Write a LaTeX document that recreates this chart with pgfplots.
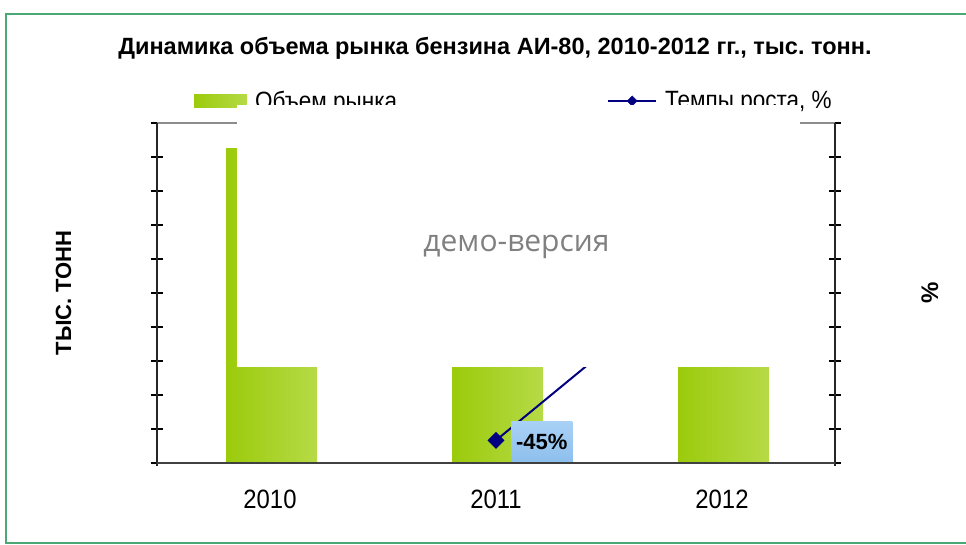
\documentclass[border=0pt]{standalone}
\usepackage{fontspec}
\setmainfont{Liberation Sans}
\newfontfamily\narrowsans{Liberation Sans}[FakeStretch=0.9]
\newfontfamily\demofont{Open Sans}
\usepackage{pgfplots}
\pgfplotsset{compat=1.18}
\definecolor{barL}{HTML}{9BCB0B}
\definecolor{barR}{HTML}{B6DA47}
\definecolor{growth}{HTML}{000080}
\definecolor{framegreen}{HTML}{4BA773}
\definecolor{lblTop}{HTML}{A9D1F6}
\definecolor{lblBot}{HTML}{8CBEEC}
\frenchspacing

\pgfplotsset{volbar/.style={ybar, bar width=91bp, bar shift=1.5bp, draw=none,
  left color=barL, right color=barR}}

\begin{document}
\begin{tikzpicture}
\useasboundingbox (0bp,0bp) rectangle (966bp,545bp);
\draw[framegreen, line width=2bp] (980bp,2bp) -- (6bp,2bp) -- (6bp,531bp) -- (980bp,531bp);

% volume, thousand tonnes
\begin{axis}[
  at={(157bp,82bp)}, anchor=south west,
  width=678bp, height=340bp, scale only axis,
  xmin=-0.5, xmax=2.5, ymin=0, ymax=10,
  axis line style={draw=none},
  xtick={0,1,2}, xticklabels={2010,2011,2012},
  xtick style={draw=none},
  minor xtick={0.5,1.5},
  minor x tick style={black!70, line width=1bp},
  minor tick length=16bp,
  ytick={0,...,10}, yticklabels={}, ytick pos=left,
  ytick style={black, line width=1.2bp},
  major tick length=12bp, tick align=center,
  x tick label style={font=\narrowsans\fontsize{26.5bp}{30bp}\selectfont, yshift=-17bp},
  ylabel={ТЫС. ТОНН},
  ylabel style={at={(axis description cs:-0.138,0.5)}, anchor=center,
    font=\bfseries\fontsize{22bp}{24bp}\selectfont},
  title={Динамика объема рынка бензина АИ-80, 2010-2012 гг., тыс. тонн.},
  title style={at={(axis description cs:0.4985,1.184)}, anchor=base,
    font=\bfseries\fontsize{23.5bp}{26bp}\selectfont},
  legend columns=2,
  legend style={at={(axis description cs:0.0546,1.0647)}, anchor=west,
    draw=none, fill=none, inner sep=0pt, column sep=0pt,
    nodes={inner sep=0pt},
    font=\narrowsans\fontsize{25bp}{28bp}\selectfont,
    /tikz/every odd column/.append style={column sep=8bp}},
]
\addplot[volbar,
  legend image code/.code={\fill[left color=barL, right color=barR] (0bp,-6.5bp) rectangle (53bp,6.5bp);}]
  coordinates {(0,9.26)};
\addlegendentry{\makebox[352bp][l]{Объем рынка}}
\addplot[volbar, forget plot] coordinates {(1,5.1)};
\addplot[volbar, forget plot] coordinates {(2,7.0)};
\addlegendimage{legend image code/.code={
  \draw[growth, line width=2bp] (0bp,0bp) -- (48bp,0bp);
  \fill[growth] (24bp,5bp) -- (29bp,0bp) -- (24bp,-5bp) -- (19bp,0bp) -- cycle;}}
\addlegendentry{Темпы роста, \%}
\end{axis}

% growth rate, %
\begin{axis}[
  at={(157bp,82bp)}, anchor=south west,
  width=678bp, height=340bp, scale only axis,
  xmin=-0.5, xmax=2.5, ymin=-55, ymax=95,
  hide x axis, axis line style={draw=none},
  ytick={-55,-40,...,95}, yticklabels={}, ytick pos=right,
  ytick style={black, line width=1.2bp},
  major tick length=12bp, tick align=center,
  ylabel={\%},
  ylabel style={at={(axis description cs:1.140,0.5)}, anchor=center,
    font=\bfseries\fontsize{24bp}{26bp}\selectfont},
]
\addplot[growth, line width=2bp, mark=square*, mark size=5bp, mark options={rotate=45},
  point meta=explicit symbolic, nodes near coords,
  every node near coord/.style={anchor=west, xshift=14bp, yshift=-2bp, text=black,
    font=\bfseries\fontsize{22bp}{24bp}\selectfont,
    top color=lblTop, bottom color=lblBot, inner xsep=5bp, minimum height=42bp}]
  coordinates {(1,-45) [-45\%] (2,37) [37\%]};
\end{axis}

% plot area border
\draw[black!45, line width=2bp] (157bp,422bp) -- (835bp,422bp);
\draw[black!85, line width=1.5bp] (157bp,79bp) -- (157bp,422bp);
\draw[black!85, line width=1.5bp] (835bp,79bp) -- (835bp,422bp);
\draw[black!75, line width=1.5bp] (157bp,82bp) -- (835bp,82bp);

% demo overlay
\fill[white] (237bp,178bp) rectangle (800bp,440bp);
\node[text=black!50, font=\demofont\fontsize{30bp}{34bp}\selectfont] at (516.5bp,298bp) {демо-версия};
\end{tikzpicture}
\end{document}
